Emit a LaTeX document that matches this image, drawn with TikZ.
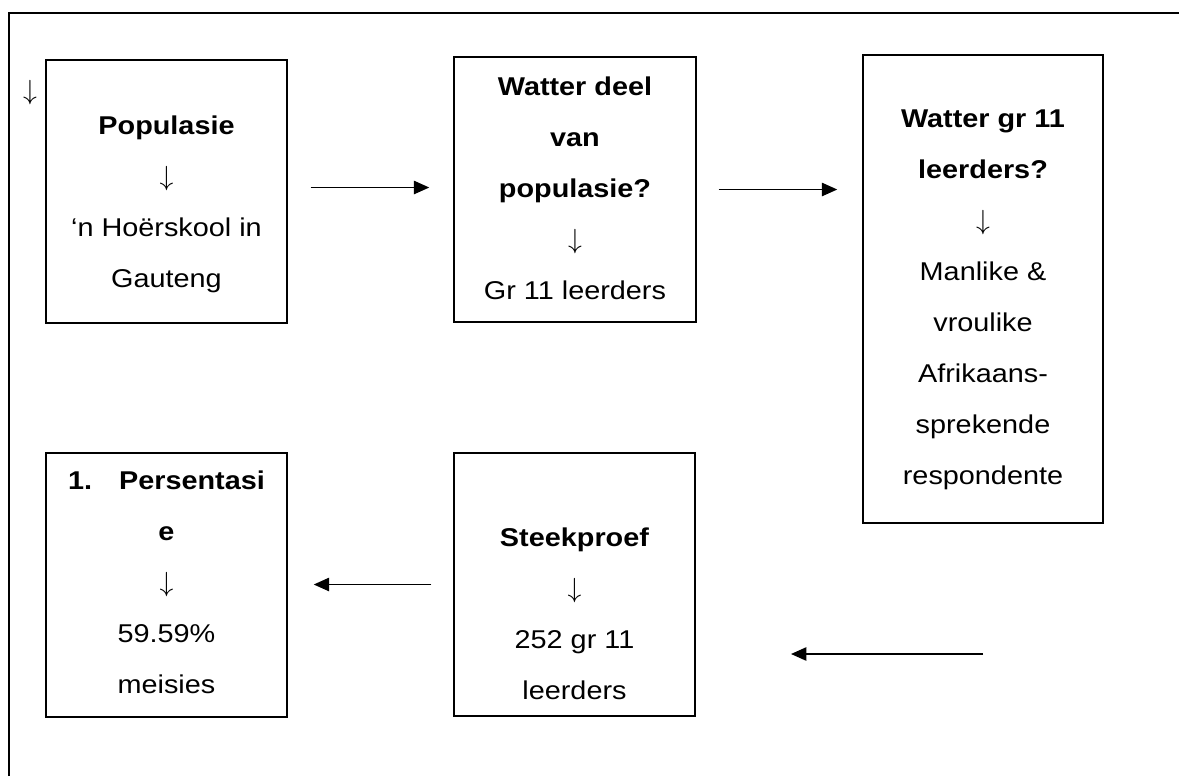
\documentclass[tikz,border=0pt]{standalone}
\usepackage{fontspec}
\setmainfont{Liberation Sans}[FakeStretch=1.12]
\usetikzlibrary{arrows.meta}

\newcommand{\flechita}{$\downarrow$}

\begin{document}
\begin{tikzpicture}[
  x=0.75pt, y=-0.75pt,
  caja/.style={draw=black, line width=1.1pt, inner sep=0pt, minimum width=180.75pt},
  texto/.style={align=center, inner sep=0pt, font=\fontsize{19.3}{38.25}\selectfont},
  flecha/.style={line width=1.1pt, -{Triangle[length=11.5pt, width=10pt]}}
]
  \useasboundingbox (0,0) rectangle (1179,776);

  % Marco exterior (borde superior e izquierdo)
  \draw[line width=1.5pt] (9,776) -- (9,13) -- (1179,13);

  % Cajas de la fila superior
  \node[caja, minimum height=197.25pt] (b1) at (166.5, 191.5) {};
  \node[caja, minimum height=198.75pt, minimum width=181.5pt] (b2) at (575, 189.5) {};
  \node[caja, minimum height=351pt, minimum width=180pt] (b3) at (983, 289) {};

  % Cajas de la fila inferior
  \node[caja, minimum height=198pt] (b4) at (166.5, 585) {};
  \node[caja, minimum height=197.25pt] (b5) at (574.5, 584.5) {};

  % Textos dentro de las cajas
  \node[texto] (s0) at (30, 93) {\flechita};
  \node[texto] (t1) at (166.5, 204) {\textbf{Populasie}\\ \flechita\\ ‘n Hoërskool in\\ Gauteng};
  \node[texto] (t2) at (575, 188.5) {\textbf{Watter deel}\\ \textbf{van}\\ \textbf{populasie?}\\ \flechita\\ Gr 11 leerders};
  \node[texto] (t3) at (983, 299.5) {\textbf{Watter gr 11}\\ \textbf{leerders?}\\ \flechita\\ Manlike \&\\ vroulike\\ Afrikaans-\\ sprekende\\ respondente};
  \node[texto] (t4) at (166.5, 582.5) {\textbf{1.\hspace{1.05em}Persentasi}\\ \textbf{e}\\ \flechita\\ 59.59\%\\ meisies};
  \node[texto] (t5) at (574.5, 613.5) {\textbf{Steekproef}\\ \flechita\\ 252 gr 11\\ leerders};

  % Extremos libres de la flecha suelta
  \coordinate (a4_in) at (983, 654);
  \coordinate (a4_out) at (791, 654);

  % Flechas entre cajas
  \draw[flecha, shorten <=17.25pt, shorten >=18pt] ([yshift=3pt]b1.east) -- ([yshift=3pt]b1.east -| b2.west);
  \draw[flecha, shorten <=16.5pt, shorten >=18.75pt] (b2.east) -- (b2.east -| b3.west);
  \draw[flecha, shorten <=16.5pt, shorten >=19.5pt] (b5.west) -- (b5.west -| b4.east);
  \draw[flecha] (a4_in) -- (a4_out);

\end{tikzpicture}
\end{document}
